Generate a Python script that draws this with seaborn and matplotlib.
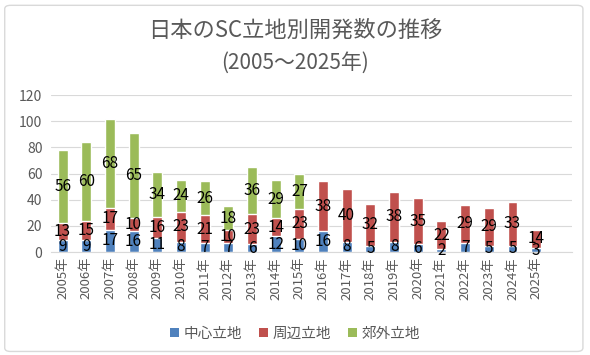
import numpy as np
import pandas as pd
import seaborn as sns
import matplotlib.pyplot as plt
from matplotlib.patches import FancyBboxPatch, Patch

# 年ごとのSC開発数（立地別）
years = [f"{y}年" for y in range(2005, 2026)]
center = [9, 9, 17, 16, 11, 8, 7, 7, 6, 12, 10, 16, 8, 5, 8, 6, 2, 7, 5, 5, 3]
periphery = [13, 15, 17, 10, 16, 23, 21, 10, 23, 14, 23, 38, 40, 32, 38, 35, 22, 29, 29, 33, 14]
suburb = [56, 60, 68, 65, 34, 24, 26, 18, 36, 29, 27, 0, 0, 0, 0, 0, 0, 0, 0, 0, 0]

series_names = ["中心立地", "周辺立地", "郊外立地"]
colors = ["#4F81BD", "#C0504D", "#9BBB59"]

df = pd.DataFrame({"year": years, "center": center,
                   "periphery": periphery, "suburb": suburb})
df["c1"] = df["center"]
df["c2"] = df["c1"] + df["periphery"]
df["c3"] = df["c2"] + df["suburb"]

sns.set_style("white")
plt.rcParams["font.family"] = ["Noto Sans CJK JP", "DejaVu Sans"]

fig = plt.figure(figsize=(5.9, 3.55), dpi=100)
ax = fig.add_axes([0.086, 0.29, 0.883, 0.442])

# stacked look: draw cumulative totals back to front
for col, c in zip(["c3", "c2", "c1"], colors[::-1]):
    sns.barplot(data=df, x="year", y=col, color=c, width=0.42,
                saturation=1, ax=ax, zorder=2)

# segment labels in the middle of each piece
for i in range(len(years)):
    segs = [(0, df["c1"][i], center[i]),
            (df["c1"][i], df["c2"][i], periphery[i]),
            (df["c2"][i], df["c3"][i], suburb[i])]
    for lo, hi, v in segs:
        if v > 0:
            ax.text(i, (lo + hi) / 2, str(v), ha="center", va="center",
                    fontsize=11, color="black", zorder=3)

ax.set_xlim(-0.5, len(years) + 0.5)
ax.set_ylim(0, 120)
ax.set_yticks(range(0, 121, 20))
ax.yaxis.grid(True, color="#D9D9D9", linewidth=0.8, zorder=0)
ax.set_axisbelow(True)
for s in ["top", "right", "left"]:
    ax.spines[s].set_visible(False)
ax.spines["bottom"].set_color("#D9D9D9")
ax.set_xlabel("")
ax.set_ylabel("")
ax.tick_params(axis="x", rotation=90, labelsize=9.5, colors="#595959", length=0)
ax.tick_params(axis="y", labelsize=10, colors="#595959", length=0, pad=6)

fig.text(0.5, 0.915, "日本のSC立地別開発数の推移", ha="center", va="center",
         fontsize=16, color="#595959")
fig.text(0.5, 0.822, "(2005～2025年)", ha="center", va="center",
         fontsize=15, color="#595959")

handles = [Patch(facecolor=c, edgecolor="none") for c in colors]
fig.legend(handles, series_names, loc="center", bbox_to_anchor=(0.5, 0.06),
           ncol=3, frameon=False, fontsize=10.5, handlelength=0.6,
           handleheight=0.6, handletextpad=0.3, columnspacing=1.2,
           labelcolor="#595959")

border = FancyBboxPatch((0.008, 0.01), 0.98, 0.975, transform=fig.transFigure,
                        boxstyle="round,pad=0,rounding_size=0.01",
                        facecolor="none", edgecolor="#D9D9D9", linewidth=1)
fig.patches.append(border)

fig.savefig("out.png", dpi=100)
